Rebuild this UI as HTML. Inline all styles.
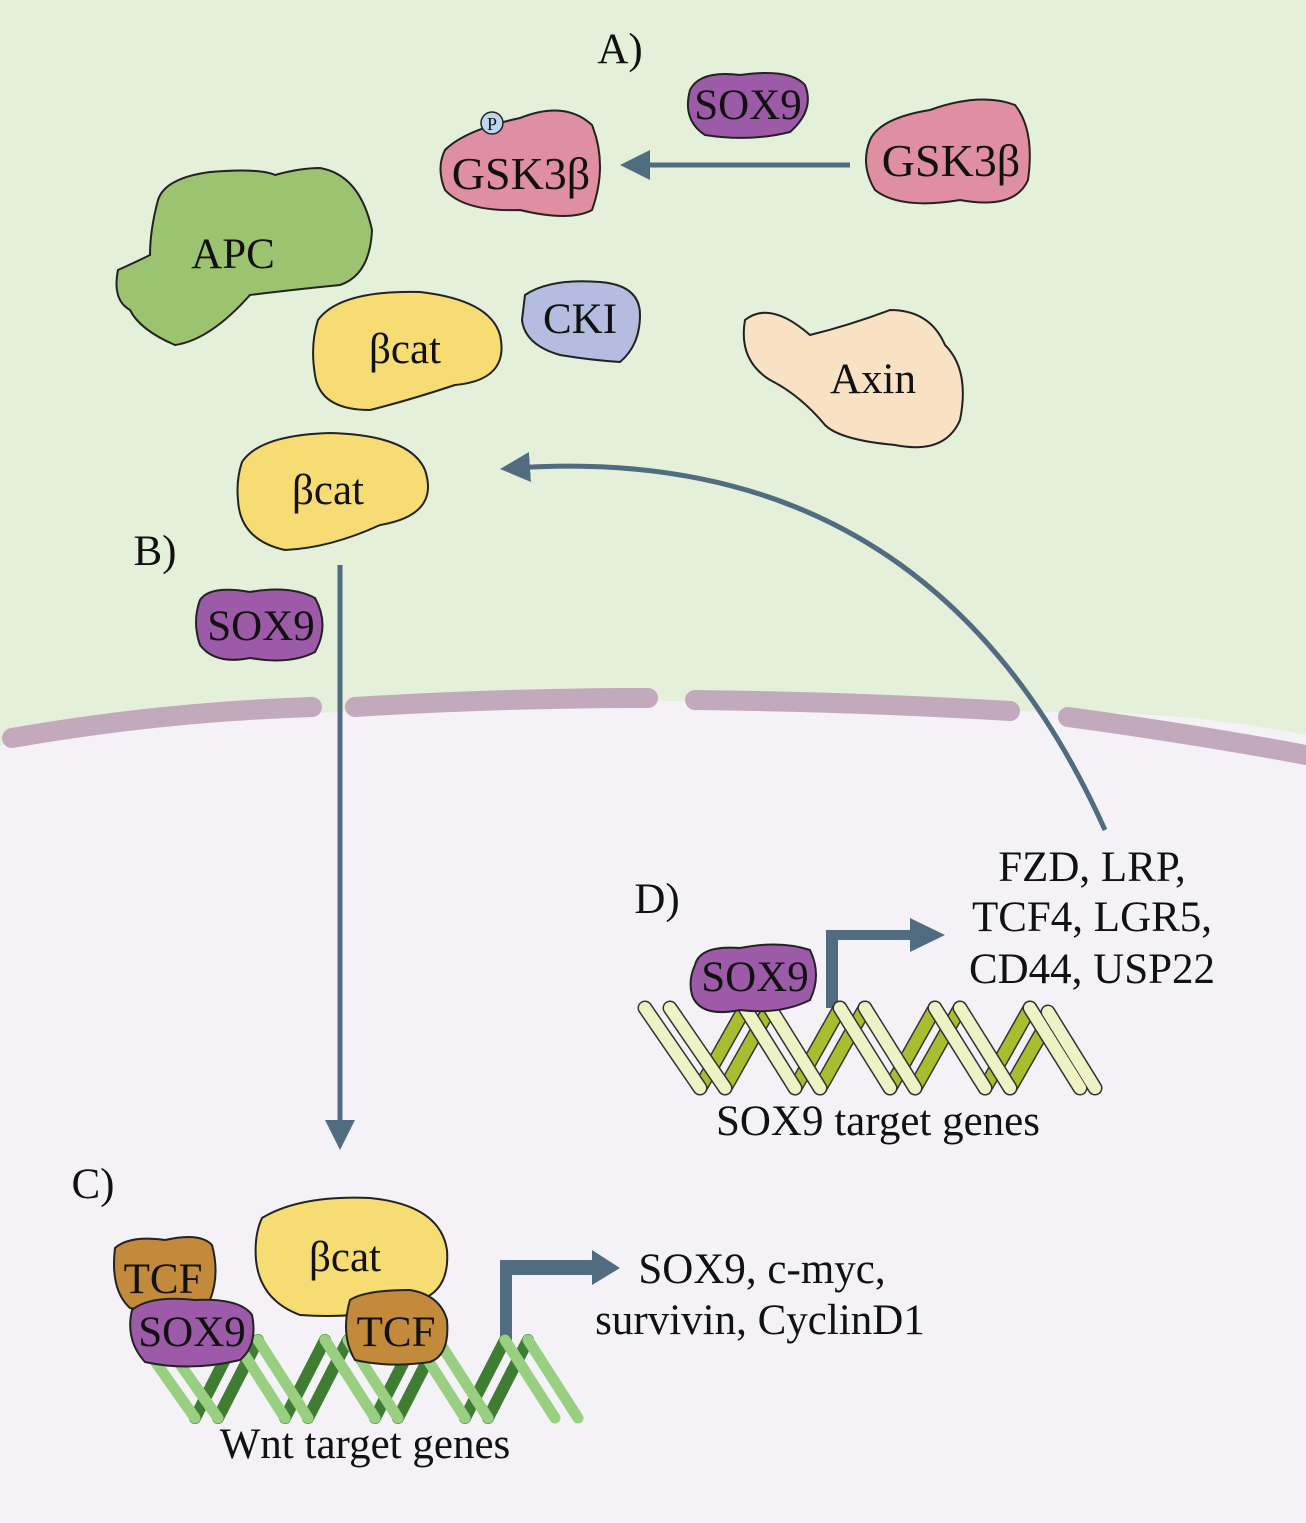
<!DOCTYPE html>
<html><head><meta charset="utf-8"><style>
html,body{margin:0;padding:0}
svg{display:block}
text{font-family:"Liberation Serif",serif;fill:#111}
</style></head><body>
<svg width="1306" height="1523" viewBox="0 0 1306 1523" xmlns="http://www.w3.org/2000/svg">
<defs>
<marker id="ah" markerWidth="6" markerHeight="6" refX="3" refY="3" orient="auto" markerUnits="strokeWidth"><path d="M0,0 L6,3 L0,6 z" fill="#516b80"/></marker>
</defs>
<rect width="1306" height="1523" fill="#f4f2f6"/>
<path d="M0 0 H1306 V735 Q1180 710 1040 712 Q700 690 340 712 Q150 720 0 745 Z" fill="#e4f0da"/>
<g stroke="#c2a9bc" stroke-width="20" stroke-linecap="round" fill="none">
<path d="M12 738 Q160 712 312 707"/>
<path d="M355 707 Q500 698 648 698"/>
<path d="M695 700 Q860 702 1010 711"/>
<path d="M1068 717 Q1200 735 1306 755"/>
</g>

<g stroke="#516b80" stroke-width="5" fill="none">
<line x1="850" y1="165" x2="635" y2="165" marker-end="url(#ah)"/>
<path d="M1105 830 Q930 440 515 468" marker-end="url(#ah)"/>
<line x1="340" y1="565" x2="340" y2="1135" marker-end="url(#ah)"/>
</g>
<path d="M826 1008 V930 H910 V918 L945 935 L910 952 V940 H838 V1008 Z" fill="#516b80"/>
<path d="M500 1345 V1260 H592 V1250 L620 1268 L592 1285 V1275 H512 V1345 Z" fill="#516b80"/>

<g stroke="#222" stroke-width="2">
<path d="M690 90 Q700 70 740 75 Q790 68 805 85 Q815 110 790 132 Q750 142 705 135 Q682 120 690 90Z" fill="#9d5aa8"/>
<path d="M870 140 Q880 118 930 110 Q980 92 1015 105 Q1035 130 1028 180 Q1015 210 960 200 Q900 210 875 190 Q860 165 870 140Z" fill="#e08fa3"/>
<path d="M445 150 Q465 130 520 118 Q565 100 592 125 Q608 165 592 210 Q570 222 520 210 Q465 212 445 190 Q436 168 445 150Z" fill="#e08fa3"/>
<path d="M158 200 Q165 178 210 172 Q260 168 275 175 Q300 168 320 168 Q360 175 372 230 Q370 275 340 285 Q290 290 250 295 Q210 340 175 345 Q140 330 130 310 Q112 300 118 270 Q140 260 150 255 Q150 230 158 200Z" fill="#9cc470"/>
<path d="M318 320 Q340 290 420 292 Q490 300 500 335 Q510 380 455 385 Q410 400 370 410 Q320 410 315 375 Q310 345 318 320Z" fill="#f6dc72"/>
<path d="M525 295 Q550 278 600 282 Q640 285 640 315 Q640 345 620 362 Q590 360 560 355 Q525 345 522 320Z" fill="#b4bcdf"/>
<path d="M745 320 Q770 300 810 335 Q850 325 890 310 Q930 310 945 345 Q970 370 960 420 Q945 455 895 445 Q840 440 825 425 Q800 395 770 380 Q738 360 745 320Z" fill="#f8e2c3"/>
<path d="M242 462 Q260 435 330 433 Q410 435 425 470 Q440 515 380 525 Q330 548 285 550 Q240 540 238 500 Q236 480 242 462Z" fill="#f6dc72"/>
<path d="M200 600 Q210 585 250 592 Q290 585 315 598 Q330 625 315 652 Q290 665 250 658 Q215 665 200 645 Q192 622 200 600Z" fill="#9d5aa8"/>
<circle cx="492" cy="123" r="11" fill="#bdd6f0" stroke-width="1.5"/>
</g>
<text x="492" y="130" font-size="18" text-anchor="middle">P</text>
<g font-size="43" text-anchor="middle">
<text x="748" y="119">SOX9</text>
<text x="951" y="176" font-size="46">GSK3β</text>
<text x="521" y="189" font-size="46">GSK3β</text>
<text x="233" y="268">APC</text>
<text x="405" y="363">βcat</text>
<text x="580" y="333">CKI</text>
<text x="873" y="393">Axin</text>
<text x="328" y="504">βcat</text>
<text x="261" y="640">SOX9</text>
<text x="620" y="63">A)</text>
<text x="155" y="565">B)</text>
<text x="93" y="1198">C)</text>
<text x="657" y="913">D)</text>
</g>

<!-- DNA D -->
<g fill="none" stroke-linecap="round" stroke-linejoin="round">
<g stroke="#333" stroke-width="15">
<path d="M700 1088 L745 1008 M725 1088 L770 1008 M795 1088 L840 1008 M820 1088 L865 1008 M890 1088 L935 1008 M915 1088 L960 1008 M985 1088 L1030 1008 M1010 1088 L1050 1018"/>
</g>
<g stroke="#a9bd2f" stroke-width="12">
<path d="M700 1088 L745 1008 M725 1088 L770 1008 M795 1088 L840 1008 M820 1088 L865 1008 M890 1088 L935 1008 M915 1088 L960 1008 M985 1088 L1030 1008 M1010 1088 L1050 1018"/>
</g>
<g stroke="#333" stroke-width="15">
<path d="M645 1008 L700 1088 M670 1008 L725 1088 M745 1008 L795 1088 M770 1008 L820 1088 M840 1008 L890 1088 M865 1008 L915 1088 M935 1008 L985 1088 M960 1008 L1010 1088 M1030 1008 L1080 1088 M1048 1012 L1095 1088"/>
</g>
<g stroke="#eef3c6" stroke-width="12">
<path d="M645 1008 L700 1088 M670 1008 L725 1088 M745 1008 L795 1088 M770 1008 L820 1088 M840 1008 L890 1088 M865 1008 L915 1088 M935 1008 L985 1088 M960 1008 L1010 1088 M1030 1008 L1080 1088 M1048 1012 L1095 1088"/>
</g>
</g>
<path d="M695 965 Q700 945 740 948 Q780 940 810 950 Q822 975 810 1000 Q780 1015 740 1010 Q700 1018 692 995 Q688 980 695 965Z" fill="#9d5aa8" stroke="#222" stroke-width="2"/>
<text x="755" y="991" font-size="43" text-anchor="middle">SOX9</text>

<!-- DNA C -->
<g fill="none" stroke-linecap="round" stroke-linejoin="round">
<g stroke="#3f7d33" stroke-width="12">
<path d="M195 1418 L235 1340 M218 1418 L258 1340 M285 1418 L325 1340 M308 1418 L348 1340 M375 1418 L415 1340 M398 1418 L438 1340 M465 1418 L505 1340 M488 1418 L528 1340"/>
</g>
<g stroke="#98cf80" stroke-width="11">
<path d="M140 1340 L195 1418 M163 1340 L218 1418 M235 1340 L285 1418 M258 1340 L308 1418 M325 1340 L375 1418 M348 1340 L398 1418 M415 1340 L465 1418 M438 1340 L488 1418 M505 1340 L555 1418 M528 1340 L578 1418"/>
</g>
</g>
<g stroke="#222" stroke-width="2">
<path d="M262 1218 Q300 1195 370 1198 Q440 1205 447 1250 Q450 1290 420 1300 Q370 1320 300 1315 Q260 1300 256 1260 Q254 1235 262 1218Z" fill="#f6dc72"/>
<path d="M115 1248 Q130 1235 165 1240 Q200 1232 212 1245 Q220 1275 210 1300 Q170 1315 130 1308 Q110 1290 115 1248Z" fill="#c48a3c"/>
<path d="M132 1310 Q150 1295 195 1300 Q240 1298 252 1315 Q258 1345 240 1360 Q190 1372 145 1362 Q125 1340 132 1310Z" fill="#9d5aa8"/>
<path d="M350 1300 Q365 1290 410 1290 Q440 1295 447 1320 Q450 1355 430 1362 Q390 1368 355 1360 Q340 1335 350 1300Z" fill="#c48a3c"/>
</g>
<g font-size="43" text-anchor="middle">
<text x="345" y="1271">βcat</text>
<text x="163" y="1293">TCF</text>
<text x="192" y="1346">SOX9</text>
<text x="396" y="1346">TCF</text>
</g>

<g font-size="43" text-anchor="middle">
<text x="1092" y="881">FZD, LRP,</text>
<text x="1092" y="931">TCF4, LGR5,</text>
<text x="1092" y="983">CD44, USP22</text>
<text x="878" y="1135">SOX9 target genes</text>
<text x="762" y="1283">SOX9, c-myc,</text>
<text x="760" y="1334">survivin, CyclinD1</text>
<text x="365" y="1458">Wnt target genes</text>
</g>
</svg>
</body></html>
